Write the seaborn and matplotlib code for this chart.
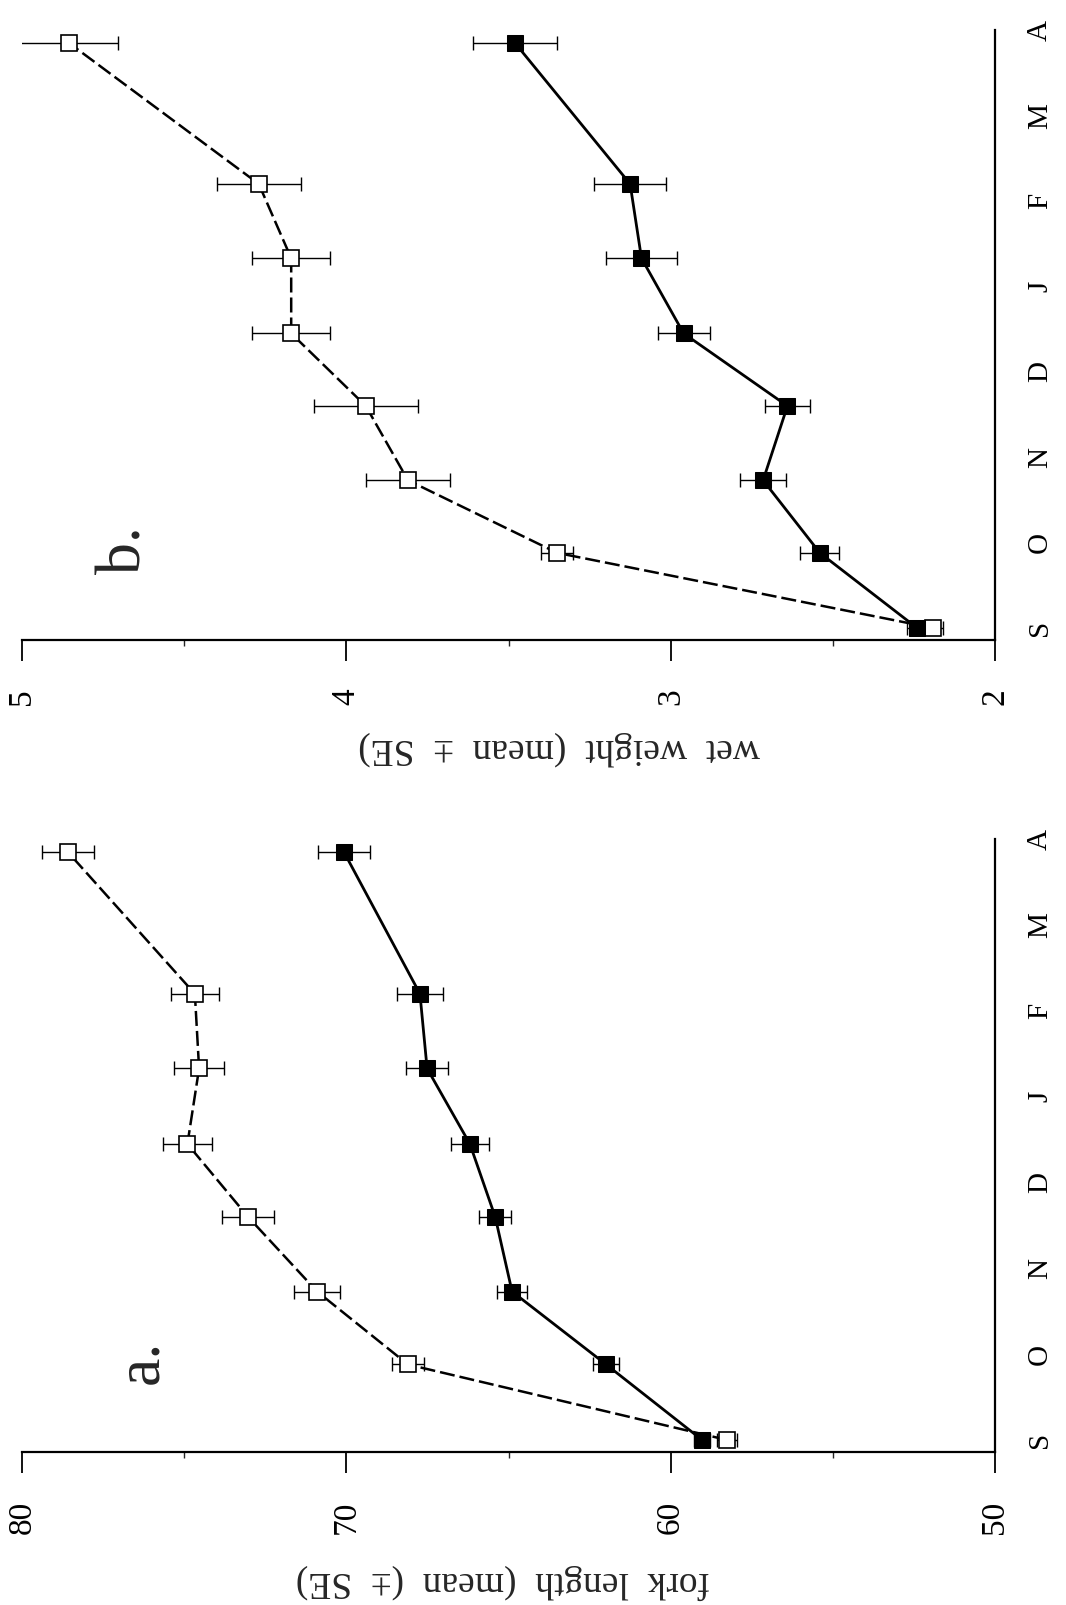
import matplotlib
matplotlib.use("Agg")
import matplotlib.pyplot as plt
import seaborn as sns
import pandas as pd
from matplotlib.ticker import FixedLocator

# ---------------- data ----------------
months = ["S", "O", "N", "D", "J", "F", "M", "A"]
sample_pos = [0.0, 0.88, 1.73, 2.60, 3.45, 4.33, 5.20, 6.85]   # sampling dates, in months from S

# panel a: fork length
fl_open = [58.26, 68.1, 70.9, 73.03, 74.9, 74.54, 74.67, 78.58]
fl_open_se = [0.3, 0.5, 0.7, 0.8, 0.76, 0.77, 0.75, 0.8]
fl_filled = [59.03, 61.99, 64.89, 65.41, 66.19, 67.51, 67.73, 70.07]
fl_filled_se = [0.25, 0.4, 0.45, 0.5, 0.59, 0.65, 0.71, 0.8]

# panel b: wet weight
ww_open = [2.19, 3.35, 3.81, 3.94, 4.17, 4.17, 4.27, 4.855]
ww_open_se = [0.03, 0.05, 0.13, 0.16, 0.12, 0.12, 0.13, 0.15]
ww_filled = [2.24, 2.54, 2.715, 2.64, 2.96, 3.09, 3.125, 3.48]
ww_filled_se = [0.03, 0.06, 0.07, 0.07, 0.08, 0.11, 0.11, 0.13]

fl_ticks = [80, 70, 60, 50]
fl_minor = [75, 65, 55]
ww_ticks = [5, 4, 3, 2]
ww_minor = [4.5, 3.5, 2.5]

label_a = "fork  length  (mean  (±  SE)"
label_b = "wet  weight  (mean  ±  SE)"

# ---------------- style ----------------
sns.set_style("white")
plt.rcParams["font.family"] = ["Liberation Serif", "DejaVu Serif"]

W, H = 1066, 1605
fig = plt.figure(figsize=(W / 100, H / 100), dpi=100)


def px_axes(left, right, bottom, top):
    return fig.add_axes([left / W, 1 - bottom / H, (right - left) / W, (bottom - top) / H])


ax_a = px_axes(22, 995, 1452, 1452 - 612.6)
ax_b = px_axes(22, 995, 640, 640 - 609.8)


def draw_panel(ax, open_v, open_se, fill_v, fill_se, xlim, ticks, minor, label,
               label_xy, panel_txt, panel_xy):
    df_open = pd.DataFrame({"value": open_v, "pos": sample_pos})
    df_fill = pd.DataFrame({"value": fill_v, "pos": sample_pos})

    # SE bars
    ax.errorbar(open_v, sample_pos, xerr=open_se, fmt="none", ecolor="black",
                elinewidth=1.0, capsize=4.7, capthick=1.0, zorder=2)
    ax.errorbar(fill_v, sample_pos, xerr=fill_se, fmt="none", ecolor="black",
                elinewidth=1.0, capsize=4.7, capthick=1.0, zorder=2)

    sns.lineplot(data=df_open, x="value", y="pos", orient="y", sort=False,
                 estimator=None, ax=ax, color="black", lw=1.8,
                 linestyle=(0, (6, 2)), marker="s", markersize=11,
                 markerfacecolor="white", markeredgecolor="black",
                 markeredgewidth=1.2, zorder=3)
    sns.lineplot(data=df_fill, x="value", y="pos", orient="y", sort=False,
                 estimator=None, ax=ax, color="black", lw=2.0,
                 marker="s", markersize=11.5, markerfacecolor="black",
                 markeredgecolor="black", zorder=4)

    ax.set_xlim(*xlim)
    ax.set_ylim(-0.14, 7.0)

    for s in ["left", "top"]:
        ax.spines[s].set_visible(False)
    for s in ["bottom", "right"]:
        ax.spines[s].set_visible(True)
        ax.spines[s].set_color("black")
        ax.spines[s].set_linewidth(1.6)

    ax.set_xticks(ticks)
    ax.set_xticklabels([str(t) for t in ticks])
    ax.xaxis.set_minor_locator(FixedLocator(minor))
    ax.tick_params(axis="x", which="major", bottom=True, direction="out",
                   length=15, width=1.3, pad=20, labelsize=24,
                   labelrotation=90, colors="black")
    ax.tick_params(axis="x", which="minor", bottom=True, direction="out",
                   length=4, width=1.0)

    ax.yaxis.tick_right()
    ax.set_yticks(range(len(months)))
    ax.set_yticklabels(months)
    ax.tick_params(axis="y", which="both", length=0, pad=23, labelsize=21,
                   labelrotation=90, left=False, right=False, colors="black")
    for t in ax.get_yticklabels():
        t.set_va("center")

    ax.set_xlabel("")
    ax.set_ylabel("")
    ax.text(label_xy[0], label_xy[1], label, rotation=180, ha="center",
            va="center", fontsize=27, transform=ax.transAxes)
    ax.text(panel_xy[0], panel_xy[1], panel_txt, rotation=90, ha="center",
            va="center", fontsize=46, transform=ax.transAxes)
    ax.grid(False)
    ax.set_facecolor("white")


draw_panel(ax_a, fl_open, fl_open_se, fl_filled, fl_filled_se, (80, 50),
           fl_ticks, fl_minor, label_a, (0.494, -0.212), "a.", (0.124, 0.147))
draw_panel(ax_b, ww_open, ww_open_se, ww_filled, ww_filled_se, (5, 2),
           ww_ticks, ww_minor, label_b, (0.552, -0.177), "b.", (0.106, 0.148))

fig.savefig("out.png", dpi=100, facecolor="white")
